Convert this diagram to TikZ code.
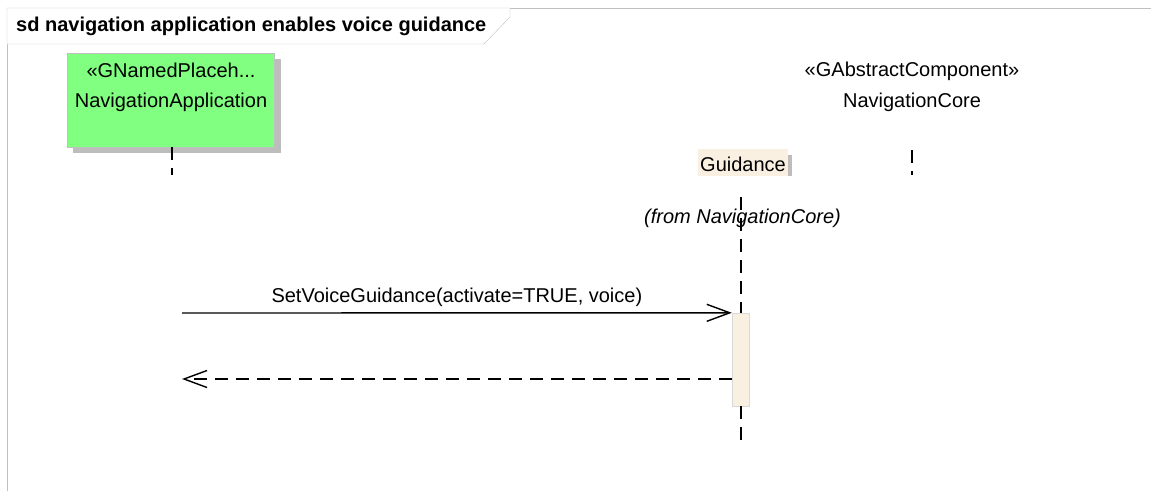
\documentclass[tikz,border=0pt]{standalone}
\usepackage{fontspec}
\setmainfont{Liberation Sans}
\usetikzlibrary{calc,arrows.meta}
\definecolor{placegreen}{HTML}{80FF80}
\definecolor{linenfill}{HTML}{FAF0E2}
\definecolor{framegray}{HTML}{C0C0C0}
\definecolor{shadegray}{HTML}{BDBDBD}

\begin{document}
\begin{tikzpicture}[x=1pt,y=-1pt]
\tikzset{txt/.style = {font=\fontsize{20}{24}\selectfont, inner sep=0pt, anchor=base}}
\tikzset{lifeline/.style = {line width=1.3pt, dash pattern=on 13pt off 8pt}}
\tikzset{edge/.style = {line width=1.4pt, -{Straight Barb[length=23pt,width=17pt,line width=1.4pt]}}}
\tikzset{reply/.style = {edge, dash pattern=on 13pt off 8pt}}
\useasboundingbox (0,0) rectangle (1151,491);
% frame and its header
\draw[framegray] (7,491) -- (7,8) -- (1151,8);
\draw[framegray, fill=white] (7,8) -- (510,8) -- (510,17) -- (484,44) -- (7,44) -- cycle;
\node[txt, anchor=base west, font=\bfseries\fontsize{20}{24}\selectfont] (title) at (16,31) {sd navigation application enables voice guidance};
% lifeline heads
\fill[shadegray] (73,59) rectangle (281,153);
\node[draw=framegray, fill=placegreen, minimum width=207pt, minimum height=94pt] (app) at (170.5,100) {};
\node[txt] (appst) at (171,77) {«GNamedPlaceh...};
\node[txt] (appname) at (171,107) {NavigationApplication};
\node[txt] (corest) at (912,76) {«GAbstractComponent»};
\node[txt] (corename) at (912,107) {NavigationCore};
\coordinate (core) at (912,150);
\fill[shadegray] (788,155) rectangle (792,176);
\node[fill=linenfill, minimum width=90pt, minimum height=27pt, inner sep=0pt] (guid) at (743,162.5) {};
\node[txt] (guidname) at (743,171) {Guidance};
\node[txt, font=\itshape\fontsize{20}{24}\selectfont] (from) at (742.5,223) {(from NavigationCore)};
\node[draw=framegray!60, fill=linenfill, minimum width=17pt, minimum height=93pt, inner sep=0pt] (act) at (740.5,359.5) {};
% lifelines
\coordinate (append) at (172,175);
\coordinate (coreend) at (912,175);
\coordinate (guidend) at (741,440);
\draw[lifeline] (172,147) -- (append);
\draw[lifeline] (core) -- (coreend);
\draw[lifeline, shorten <=21pt] (741,176) -- (act.north -| 741,0);
\draw[lifeline] (act.south -| 741,0) -- (guidend);
% messages
\coordinate (m1) at (182,313);
\coordinate (ret) at (182,379);
\draw[edge] (m1) -- (act.north west)
  node[txt, midway, yshift=10pt] (m1txt) {SetVoiceGuidance(activate=TRUE, voice)};
\draw[reply] (act.west |- ret) -- (ret);
\end{tikzpicture}
\end{document}
